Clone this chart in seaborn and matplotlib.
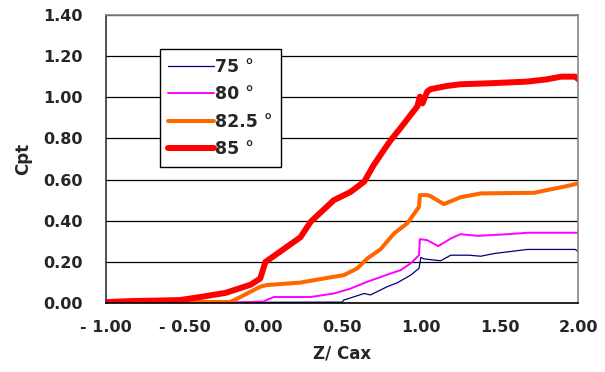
import numpy as np
import pandas as pd
import seaborn as sns
import matplotlib.pyplot as plt

# data
x_75 = [-1.0, 0.5, 0.51, 0.64, 0.68, 0.786, 0.85, 0.935, 0.988, 1.0, 1.02, 1.125,
        1.19, 1.305, 1.38, 1.464, 1.676, 1.98, 2.0]
y_75 = [0.003, 0.005, 0.015, 0.047, 0.04, 0.08, 0.099, 0.136, 0.169, 0.222, 0.215, 0.206,
        0.233, 0.233, 0.228, 0.241, 0.261, 0.261, 0.25]

x_80 = [-1.0, -0.2, 0.0, 0.02, 0.066, 0.3, 0.447, 0.55, 0.66, 0.807, 0.87, 0.935,
        0.988, 0.994, 1.04, 1.11, 1.19, 1.25, 1.36, 1.53, 1.68, 2.0]
y_80 = [0.002, 0.003, 0.008, 0.015, 0.03, 0.03, 0.047, 0.07, 0.104, 0.144, 0.16, 0.193,
        0.233, 0.311, 0.306, 0.277, 0.314, 0.335, 0.327, 0.334, 0.342, 0.342]

x_825 = [-1.0, -0.6, -0.21, -0.146, -0.02, 0.02, 0.235, 0.383, 0.51, 0.596, 0.66, 0.744,
         0.83, 0.914, 0.966, 0.988, 0.994, 1.04, 1.06, 1.146, 1.25, 1.38, 1.72, 1.80, 1.93, 2.0]
y_825 = [0.003, 0.005, 0.006, 0.03, 0.08, 0.088, 0.10, 0.12, 0.136, 0.169, 0.217, 0.262,
         0.339, 0.388, 0.444, 0.468, 0.525, 0.525, 0.52, 0.481, 0.514, 0.533, 0.536, 0.549, 0.569, 0.582]

x_85 = [-1.0, -0.85, -0.53, -0.4, -0.24, -0.08, -0.02, 0.013, 0.087, 0.235, 0.30, 0.447,
        0.553, 0.64, 0.70, 0.765, 0.807, 0.87, 0.935, 0.977, 0.994, 1.01, 1.04, 1.06,
        1.167, 1.25, 1.44, 1.676, 1.80, 1.89, 1.98, 2.0]
y_85 = [0.005, 0.01, 0.015, 0.03, 0.05, 0.09, 0.12, 0.20, 0.24, 0.32, 0.395, 0.50,
        0.54, 0.59, 0.67, 0.744, 0.79, 0.85, 0.914, 0.955, 1.003, 0.97, 1.027, 1.039,
        1.055, 1.063, 1.068, 1.076, 1.087, 1.10, 1.10, 1.087]

labels = ['75 °', '80 °', '82.5 °', '85 °']
colors = ['#000080', '#FF00FF', '#FF6600', '#FF0000']
widths = [0.9, 1.4, 2.9, 4.3]

x_ticks = [-1.0, -0.5, 0.0, 0.5, 1.0, 1.5, 2.0]
x_tick_labels = ['- 1.00', '- 0.50', '0.00', '0.50', '1.00', '1.50', '2.00']
y_ticks = [0.0, 0.2, 0.4, 0.6, 0.8, 1.0, 1.2, 1.4]
y_tick_labels = ['0.00', '0.20', '0.40', '0.60', '0.80', '1.00', '1.20', '1.40']

sns.set_style('white')
plt.rcParams['font.family'] = ['DejaVu Sans']
plt.rcParams['font.weight'] = 'bold'

fig = plt.figure(figsize=(6.05, 3.72), dpi=100)
ax = fig.add_axes([0.175, 0.185, 0.781, 0.775])

series = [(x_75, y_75), (x_80, y_80), (x_825, y_825), (x_85, y_85)]
for (xs, ys), lab, col, lw in zip(series, labels, colors, widths):
    df = pd.DataFrame({'x': xs, 'y': ys})
    sns.lineplot(data=df, x='x', y='y', ax=ax, color=col, linewidth=lw,
                 label=lab, sort=False, solid_capstyle='round')

ax.set_xlim(-1.0, 2.0)
ax.set_ylim(0.0, 1.4)
ax.set_xticks(x_ticks)
ax.set_xticklabels(x_tick_labels, fontsize=11.5, fontweight='bold')
ax.set_yticks(y_ticks)
ax.set_yticklabels(y_tick_labels, fontsize=11.5, fontweight='bold')
ax.tick_params(axis='x', direction='in', length=4, width=1, color='black', pad=12)
ax.tick_params(axis='y', length=0, pad=17)
ax.yaxis.grid(True, color='black', linewidth=0.9)
ax.set_axisbelow(True)

ax.set_xlabel('Z/ Cax', fontsize=12, fontweight='bold', labelpad=7)
ax.set_ylabel('Cpt', fontsize=12, fontweight='bold', labelpad=8)

ax.spines['left'].set_color('#333333')
ax.spines['bottom'].set_color('black')
ax.spines['right'].set_color('#888888')
ax.spines['top'].set_color('#888888')
for s in ax.spines.values():
    s.set_linewidth(1.2)

leg = ax.legend(loc='upper left', bbox_to_anchor=(0.114, 0.882), borderaxespad=0,
                frameon=True, fancybox=False, edgecolor='black', framealpha=1,
                prop={'size': 12.5, 'weight': 'bold'}, handlelength=2.6,
                handletextpad=0.1, labelspacing=0.55, borderpad=0.5)
leg.get_frame().set_linewidth(1.0)

fig.savefig('out.png', dpi=100)
